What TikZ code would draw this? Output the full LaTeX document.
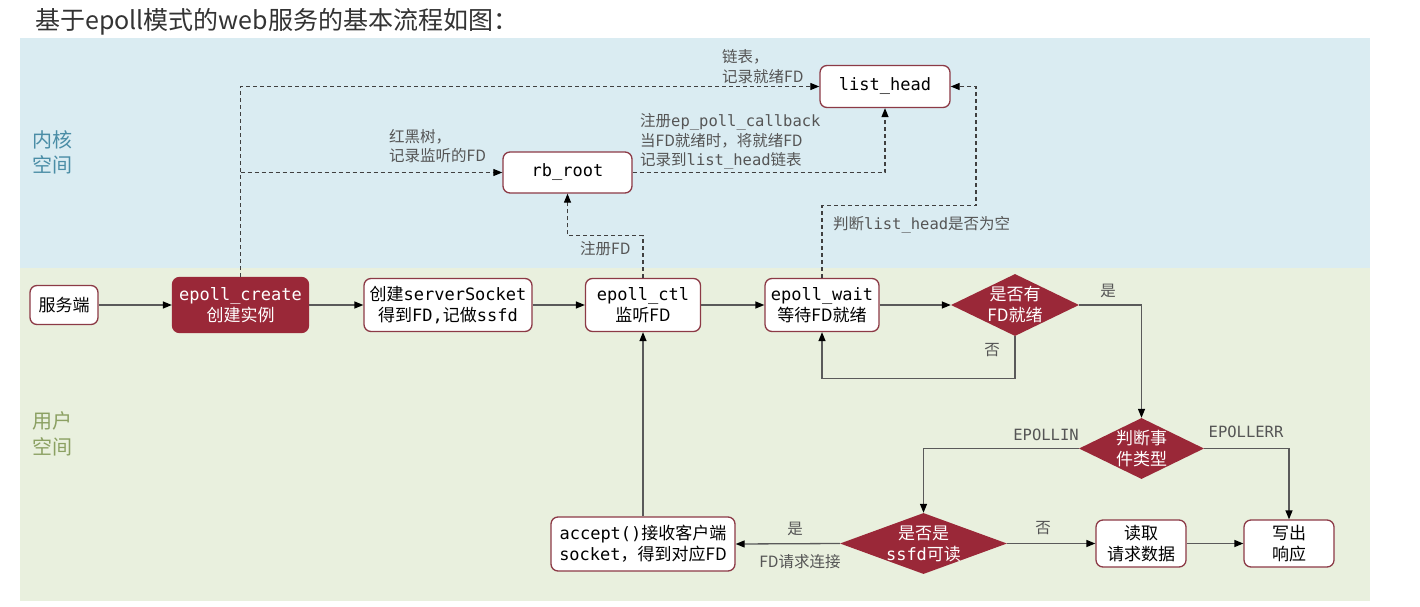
\documentclass[tikz,border=0pt]{standalone}
\usepackage{fontspec}
\setmainfont{Noto Sans CJK SC}
\newfontfamily\mono{DejaVu Sans Mono}
\usetikzlibrary{shapes.geometric,arrows.meta}
\definecolor{kbg}{HTML}{DAECF2}
\definecolor{ubg}{HTML}{E9F0DE}
\definecolor{dred}{HTML}{9A2838}
\definecolor{bord}{HTML}{8C3A46}
\definecolor{ktext}{HTML}{4A8DA6}
\definecolor{utext}{HTML}{8BA062}
\definecolor{lbl}{HTML}{555555}
\definecolor{lin}{HTML}{5A5A5A}
\begin{document}
\begin{tikzpicture}[x=1pt,y=-1pt,
  box/.style={draw=bord, fill=white, rounded corners=7pt, line width=1.3pt, align=center, inner sep=0pt, font=\fontsize{17}{21}\selectfont},
  redbox/.style={box, fill=dred, draw=dred, text=white},
  dia/.style={diamond, fill=dred, inner sep=0pt},
  diatext/.style={text=white, align=center, inner sep=0pt, font=\fontsize{17}{21}\selectfont},
  lab/.style={text=lbl, font=\fontsize{15.5}{19.5}\selectfont, align=left, inner sep=0pt},
  flow/.style={draw=lin, line width=1.3pt, -{Triangle[length=9pt,width=7pt,color=black]}},
  dline/.style={draw=black!75, line width=1.1pt, dash pattern=on 4pt off 3pt, -{Triangle[length=9pt,width=7pt,color=black]}},
]
\useasboundingbox (0,0) rectangle (1420,607);
\fill[white] (0,0) rectangle (1420,607);
\fill[kbg] (20,38) rectangle (1370,268);
\fill[ubg] (20,268) rectangle (1370,601);

\node[anchor=west, text=black!80, font=\fontsize{25}{29}\selectfont, inner sep=0pt] (title) at (35,22) {基于epoll模式的web服务的基本流程如图：};
\node[anchor=west, text=ktext, font=\fontsize{20}{25}\selectfont, align=left, inner sep=0pt] (kern) at (32,152.5) {内核\\空间};
\node[anchor=west, text=utext, font=\fontsize{20}{26}\selectfont, align=left, inner sep=0pt] (user) at (32,433.5) {用户\\空间};

% nodes
\node[box, minimum width=68, minimum height=39] (srv) at (64,305) {服务端};
\node[redbox, minimum width=136, minimum height=55] (create) at (240.5,305) {{\mono epoll\_create}\\创建实例};
\node[box, minimum width=168, minimum height=53] (sock) at (448,305) {创建{\mono serverSocket}\\得到{\mono FD,}记做{\mono ssfd}};
\node[box, minimum width=115, minimum height=53] (ctl) at (643,305) {{\mono epoll\_ctl}\\监听FD};
\node[box, minimum width=114, minimum height=53] (wait) at (822,305) {{\mono epoll\_wait}\\等待FD就绪};
\node[dia, minimum width=128, minimum height=62] (d1) at (1015,305) {};
\node[diatext] (d1t) at (d1) {是否有\\FD就绪};
\node[dia, minimum width=125, minimum height=61] (d2) at (1141.5,448.5) {};
\node[diatext] (d2t) at (d2) {判断事\\件类型};
\node[dia, minimum width=167, minimum height=61] (d3) at (923.5,543.5) {};
\node[diatext] (d3t) at (d3) {是否是\\{\mono ssfd}可读};
\node[box, minimum width=184, minimum height=54] (acc) at (643,544) {{\mono accept()}接收客户端\\{\mono socket}，得到对应FD};
\node[box, minimum width=90, minimum height=47] (read) at (1141,543.5) {读取\\请求数据};
\node[box, minimum width=90, minimum height=47] (write) at (1289,543.5) {写出\\响应};
\node[box, minimum width=129, minimum height=41] (rb) at (567.5,172.5) {{\mono rb\_root}};
\node[box, minimum width=130, minimum height=42] (lh) at (885,86.5) {{\mono list\_head}};

% solid flow
\draw[flow] (srv) -- (create);
\draw[flow] (create) -- (sock);
\draw[flow] (sock) -- (ctl);
\draw[flow] (ctl) -- (wait);
\draw[flow] (wait) -- (d1);
\draw[flow] (d1.east) -| (d2.north);
\draw[flow] (d1.south) -- ++(0,42) -| (wait.south);
\draw[flow] (d2.west) -| (d3.north);
\draw[flow] (d2.east) -| (write.north);
\draw[flow] (d3.east) -- (read.west);
\draw[flow] (read) -- (write);
\draw[flow] (d3.west) -- (acc.east);
\draw[flow] (acc.north) -- (ctl.south);

% dashed
\draw[dline] (create.north) |- (lh.west);
\coordinate (br) at (create.north |- rb.west);
\draw[dline] (br) -- (rb.west);
\draw[dline] (rb.east) -| (lh.south);
\draw[dline] (ctl.north) -- ++(0,-42) -| (rb.south);
\draw[dline] (wait.north) -- ++(0,-72) -- ++(154,0) |- (lh.east);

% labels
\node[lab, anchor=west] (l1) at (722,66.5) {链表，\\记录就绪FD};
\node[lab, anchor=west] (l2) at (389,146) {红黑树，\\记录监听的FD};
\node[lab, anchor=west] (l3) at (640,141.5) {注册{\mono ep\_poll\_callback}\\当FD就绪时，将就绪FD\\记录到{\mono list\_head}链表};
\node[lab, anchor=west] (l4) at (833,225) {判断{\mono list\_head}是否为空};
\node[lab, anchor=west] (l5) at (580,249) {注册FD};
\node[lab] (l6) at (1108,291) {是};
\node[lab] (l7) at (992,350) {否};
\node[lab] (l8) at (1046,435) {\mono EPOLLIN};
\node[lab] (l9) at (1246,432) {\mono EPOLLERR};
\node[lab] (l10) at (1043,528) {否};
\node[lab] (l11) at (795,529) {是};
\node[lab] (l12) at (800,562) {FD请求连接};
\end{tikzpicture}
\end{document}
